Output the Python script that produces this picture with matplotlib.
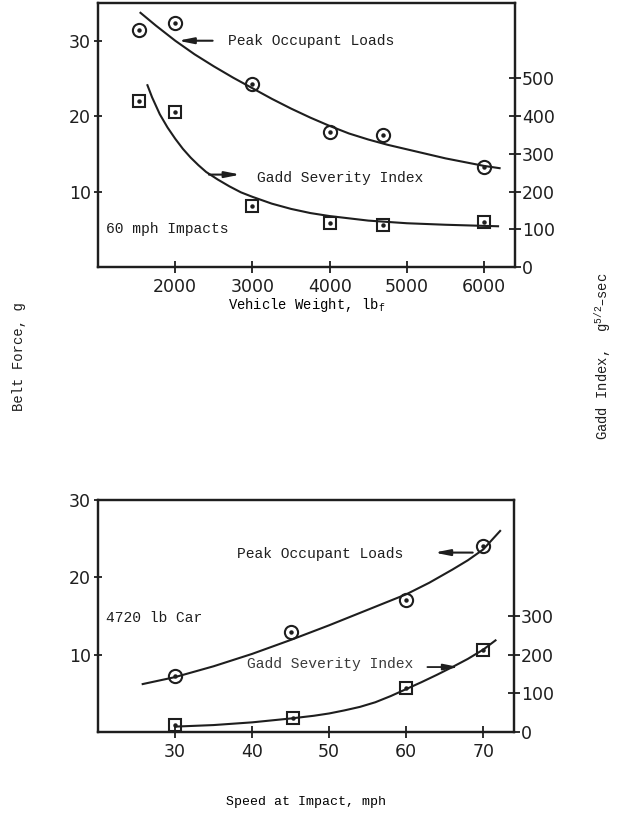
import matplotlib
matplotlib.use("Agg")
import matplotlib.pyplot as plt
import numpy as np

# ---- top chart: 60 mph impacts, vs vehicle weight ----
weightPts = [1530, 2000, 3000, 4000, 4690, 6000]
peakLoadPts = [31.4, 32.4, 24.3, 17.9, 17.5, 13.2]        # g
gsiPtsTop = [440, 410, 163, 116, 111, 118]                # g^5/2-sec

peakCurveW = [1550, 1750, 2000, 2250, 2500, 2750, 3000, 3250, 3500, 3750, 4000,
              4250, 4500, 4750, 5000, 5250, 5500, 5750, 6000, 6200]
peakCurveG = [33.7, 32.0, 30.0, 28.2, 26.6, 25.1, 23.7, 22.3, 21.0, 19.8, 18.7,
              17.7, 16.9, 16.2, 15.6, 15.0, 14.4, 13.9, 13.4, 13.1]
gsiCurveW = [1640, 1700, 1800, 1900, 2000, 2100, 2200, 2300, 2400, 2550, 2700, 2850,
             3000, 3250, 3500, 3750, 4000, 4500, 5000, 5500, 6000, 6180]
gsiCurveTop = [482, 450, 405, 370, 340, 313, 290, 270, 252, 232, 214, 198,
               186, 168, 154, 143, 135, 123, 116, 112, 109, 108]

# ---- bottom chart: 4720 lb car, vs speed ----
speedPts = [30, 45, 60, 70]
peakLoadSpd = [7.2, 12.9, 17.1, 24.0]
gsiPtsBot = [19, 35, 113, 213]
speedPtsSq = [30, 45.3, 60, 70]

peakCurveS = [25.8, 30, 35, 40, 45, 50, 54, 57, 60, 63, 66, 68, 70, 72.2]
peakCurveSG = [6.2, 7.1, 8.5, 10.1, 11.9, 13.8, 15.4, 16.6, 17.8, 19.3, 21.0, 22.2, 23.6, 26.0]
gsiCurveS = [30, 35, 40, 45, 48, 50, 52, 54, 56, 58, 60, 62, 64, 66, 68, 70, 71.6]
gsiCurveBot = [14, 18, 25, 35, 42, 48, 56, 65, 77, 93, 111, 129, 148, 168, 189, 213, 237]

leftTicksTop = [10, 20, 30]
rightTicksTop = [0, 100, 200, 300, 400, 500]
xTicksTop = [2000, 3000, 4000, 5000, 6000]
leftTicksBot = [10, 20, 30]
rightTicksBot = [0, 100, 200, 300]
xTicksBot = [30, 40, 50, 60, 70]

ink = "#1e1e1e"
mono = "Liberation Mono"
plt.rcParams["font.family"] = "DejaVu Sans"
plt.rcParams["lines.solid_joinstyle"] = "round"


def style_axes(ax, axr):
    for a in (ax, axr):
        for s in a.spines.values():
            s.set_linewidth(1.6)
            s.set_color(ink)
    ax.tick_params(axis="both", direction="inout", length=8, width=1.3,
                   labelsize=12.5, colors=ink, pad=4)
    ax.tick_params(axis="y", length=6, pad=2)
    axr.tick_params(axis="y", direction="inout", length=8, width=1.3,
                    labelsize=12.5, colors=ink, pad=1)


def draw_markers(ax, x, y, marker, size):
    ax.plot(x, y, linestyle="none", marker=marker, markersize=size,
            markerfacecolor="none", markeredgecolor=ink, markeredgewidth=1.5)
    ax.plot(x, y, linestyle="none", marker="o", markersize=2.2, color=ink)


fig = plt.figure(figsize=(6.18, 8.13), dpi=100)

# Top chart
ax1 = fig.add_axes([0.1586, 0.6716, 0.6748, 0.3247])
ax1r = ax1.twinx()
ax1.set_xlim(1000, 6400)
ax1.set_ylim(0, 35)
ax1r.set_ylim(0, 700)
ax1.plot(peakCurveW, peakCurveG, color=ink, lw=1.5)
ax1r.plot(gsiCurveW, gsiCurveTop, color=ink, lw=1.5)
draw_markers(ax1, weightPts, peakLoadPts, "o", 9.5)
draw_markers(ax1r, weightPts, gsiPtsTop, "s", 9)
ax1.set_xticks(xTicksTop)
ax1.set_yticks(leftTicksTop)
ax1r.set_yticks(rightTicksTop)
style_axes(ax1, ax1r)
ax1.set_xlabel("Vehicle Weight, lb$_\\mathregular{f}$", family=mono, fontsize=10, labelpad=0)

ax1.annotate("", xy=(2000, 30), xytext=(2520, 30),
             arrowprops=dict(arrowstyle="-|>,head_length=0.9,head_width=0.18", color=ink, lw=1.5))
ax1.text(2680, 30, "Peak Occupant Loads", family=mono, fontsize=10.5, va="center", color=ink)
ax1r.annotate("", xy=(2880, 245), xytext=(2400, 245),
              arrowprops=dict(arrowstyle="-|>,head_length=0.9,head_width=0.18", color=ink, lw=1.5))
ax1r.text(3060, 237, "Gadd Severity Index", family=mono, fontsize=10.5, va="center", color=ink)
ax1.text(1100, 5.1, "60 mph Impacts", family=mono, fontsize=10.5, va="center", color=ink)

# Bottom chart
ax2 = fig.add_axes([0.1586, 0.0996, 0.6731, 0.2854])
ax2r = ax2.twinx()
ax2.set_xlim(20, 74)
ax2.set_ylim(0, 30)
ax2r.set_ylim(0, 600)
ax2.plot(peakCurveS, peakCurveSG, color=ink, lw=1.5)
ax2r.plot(gsiCurveS, gsiCurveBot, color=ink, lw=1.5)
draw_markers(ax2, speedPts, peakLoadSpd, "o", 9.5)
draw_markers(ax2r, speedPtsSq, gsiPtsBot, "s", 9)
ax2.set_xticks(xTicksBot)
ax2.set_yticks(leftTicksBot)
ax2r.set_yticks(rightTicksBot)
style_axes(ax2, ax2r)
ax2.set_xlabel("Speed at Impact, mph", family=mono, fontsize=9.5, labelpad=25)

ax2.text(38.1, 23.0, "Peak Occupant Loads", family=mono, fontsize=10.5, va="center", color=ink)
ax2.annotate("", xy=(63.3, 23.2), xytext=(69.0, 23.2),
             arrowprops=dict(arrowstyle="-|>,head_length=0.9,head_width=0.18", color=ink, lw=1.5))
ax2.text(21.0, 14.8, "4720 lb Car", family=mono, fontsize=10.5, va="center", color=ink)
ax2r.text(39.4, 176, "Gadd Severity Index", family=mono, fontsize=10.5, va="center", color="#3a3a3a")
ax2r.annotate("", xy=(67.2, 168), xytext=(62.4, 168),
              arrowprops=dict(arrowstyle="-|>,head_length=0.9,head_width=0.18", color=ink, lw=1.3))

# Shared side labels
fig.text(0.03, 1 - 357 / 813, "Belt Force, g", rotation=90, family=mono, fontsize=10,
         ha="center", va="center", color=ink)
fig.text(0.975, 1 - 356 / 813, "Gadd Index,  g$^{\\mathregular{5/2}}$\u2013sec", rotation=90,
         family=mono, fontsize=10, ha="center", va="center", color=ink)

fig.savefig("out.png", dpi=100, facecolor="white")
